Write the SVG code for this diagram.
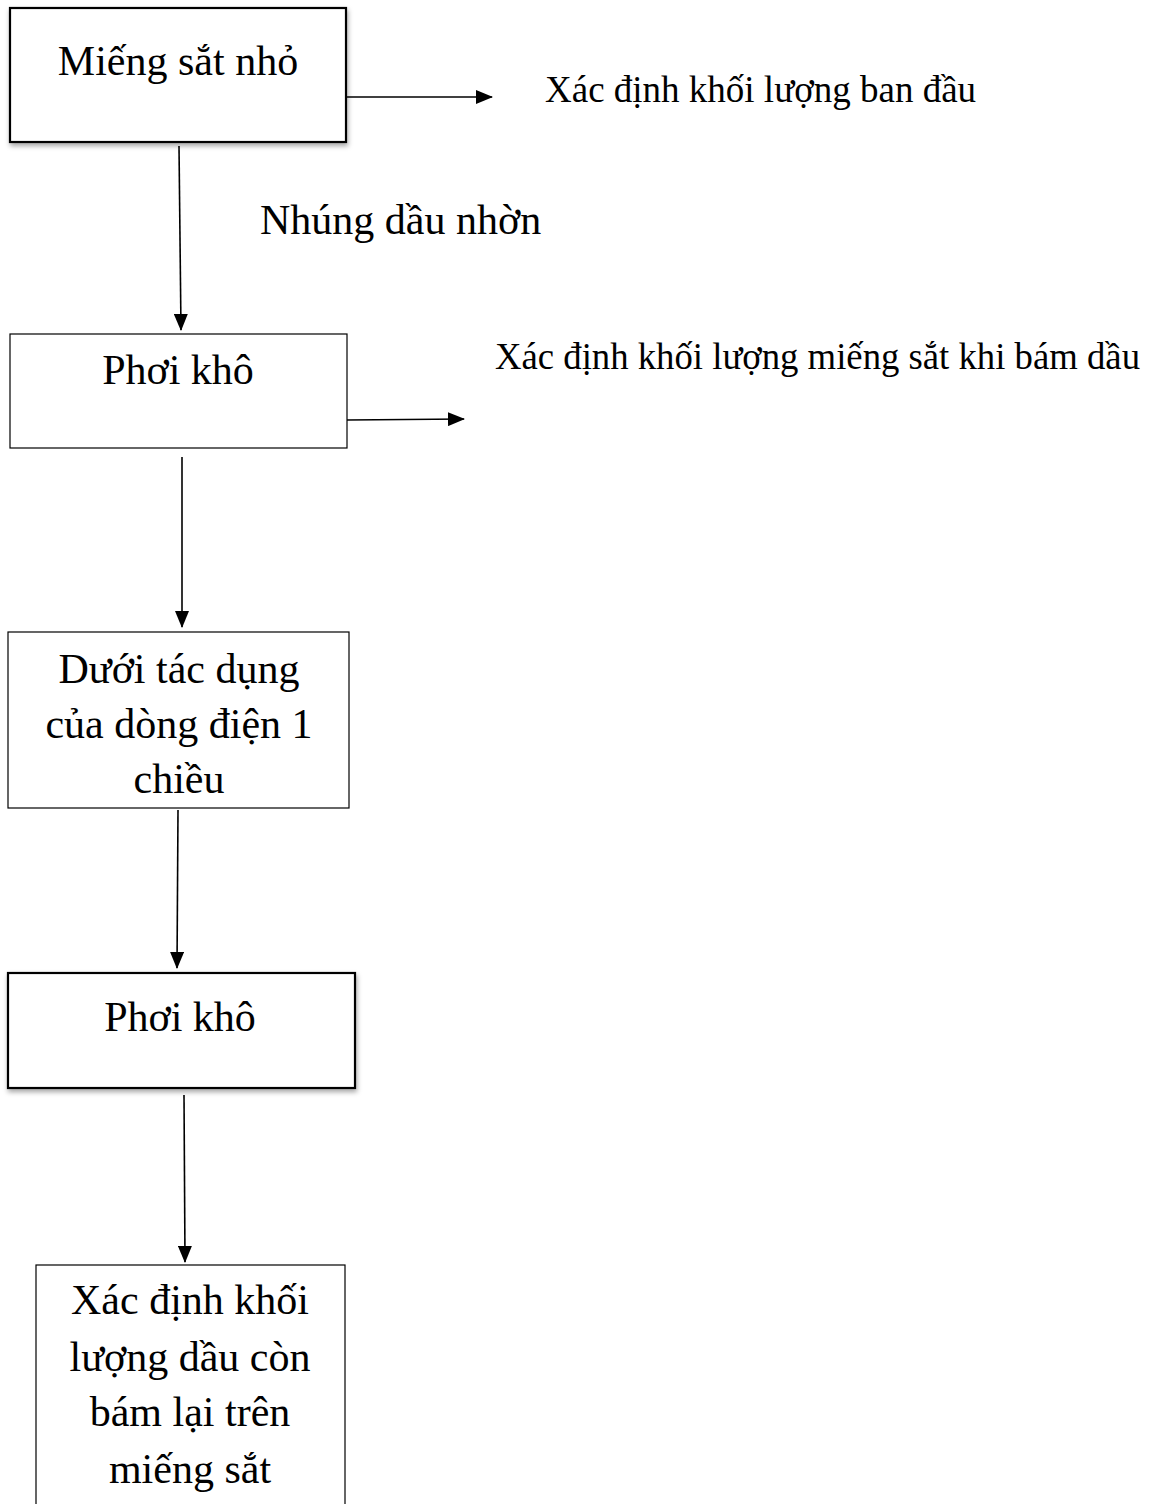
<svg xmlns="http://www.w3.org/2000/svg" width="1157" height="1504" viewBox="0 0 1157 1504">
<style>
text{font-family:"Liberation Serif","Times New Roman",serif;fill:#000}
.n{font-size:42px;text-anchor:middle}
.l{font-size:37px}
.box{fill:#fff;stroke:#000;stroke-width:1.2}
.sbox{fill:#fff;stroke:#000;stroke-width:2.2;filter:url(#sh)}
.c{stroke:#000;stroke-width:1.6;fill:none;marker-end:url(#ah)}
</style>
<defs>
<marker id="ah" viewBox="0 0 17 14" refX="16" refY="7" markerWidth="17" markerHeight="14" markerUnits="userSpaceOnUse" orient="auto"><path d="M0,0 L17,7 L0,14 z" fill="#000"/></marker>
<filter id="sh" x="-10%" y="-10%" width="130%" height="140%"><feDropShadow dx="1" dy="3" stdDeviation="2.5" flood-color="#000" flood-opacity="0.35"/></filter>
</defs>
<rect width="1157" height="1504" fill="#fff"/>
<g id="connectors">
<path class="c" d="M346,97 L492,97"/>
<path class="c" d="M179,146 L181,330"/>
<path class="c" d="M347,420 L464,419"/>
<path class="c" d="M182,457 L182,627"/>
<path class="c" d="M178,810 L177,968"/>
<path class="c" d="M184,1095 L185,1262"/>
</g>
<g id="n1"><rect class="sbox" x="10" y="8" width="336" height="134"/><text class="n" x="178" y="75">Miếng sắt nhỏ</text></g>
<g id="l1"><text class="l" x="545" y="102">Xác định khối lượng ban đầu</text></g>
<g id="l2"><text x="260" y="234" style="font-size:42px">Nhúng dầu nhờn</text></g>
<g id="n2"><rect class="box" x="10" y="334" width="337" height="114"/><text class="n" x="178" y="384">Phơi khô</text></g>
<g id="l3"><text class="l" x="495" y="369" textLength="645" lengthAdjust="spacingAndGlyphs">Xác định khối lượng miếng sắt khi bám dầu</text></g>
<g id="n3"><rect class="box" x="8" y="632" width="341" height="176"/><text class="n" x="179" y="683">Dưới tác dụng</text><text class="n" x="179" y="738">của dòng điện 1</text><text class="n" x="179" y="793">chiều</text></g>
<g id="n4"><rect class="sbox" x="8" y="973" width="347" height="115"/><text class="n" x="180" y="1031">Phơi khô</text></g>
<g id="n5"><rect class="box" x="36" y="1265" width="309" height="260"/><text class="n" x="190" y="1314">Xác định khối</text><text class="n" x="190" y="1371">lượng dầu còn</text><text class="n" x="190" y="1426">bám lại trên</text><text class="n" x="190" y="1483">miếng sắt</text></g>
</svg>
